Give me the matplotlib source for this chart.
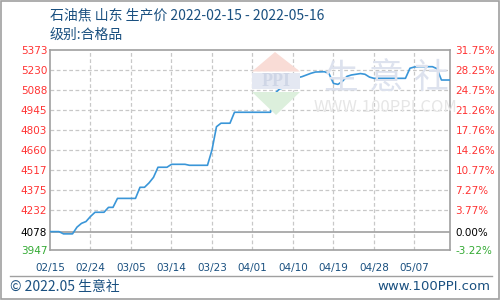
import pandas as pd
import matplotlib
matplotlib.use("Agg")
from matplotlib import pyplot as plt
from matplotlib.patches import Polygon, Rectangle
from matplotlib.lines import Line2D

plt.rcParams['font.family'] = ['Noto Sans CJK SC', 'DejaVu Sans']

# 数据
dates = ['2022-02-15', '2022-02-17', '2022-02-18', '2022-02-20', '2022-02-21',
         '2022-02-22', '2022-02-23', '2022-02-24', '2022-02-25', '2022-02-27',
         '2022-02-28', '2022-03-01', '2022-03-02', '2022-03-06', '2022-03-07',
         '2022-03-08', '2022-03-09', '2022-03-10', '2022-03-11', '2022-03-13',
         '2022-03-14', '2022-03-17', '2022-03-18', '2022-03-22', '2022-03-23',
         '2022-03-24', '2022-03-25', '2022-03-27', '2022-03-28', '2022-04-05',
         '2022-04-06', '2022-04-07', '2022-04-08', '2022-04-09', '2022-04-10',
         '2022-04-11', '2022-04-12', '2022-04-13', '2022-04-14', '2022-04-15',
         '2022-04-17', '2022-04-18', '2022-04-19', '2022-04-20', '2022-04-21',
         '2022-04-22', '2022-04-23', '2022-04-24', '2022-04-25', '2022-04-26',
         '2022-04-27', '2022-04-28', '2022-05-05', '2022-05-06', '2022-05-07',
         '2022-05-08', '2022-05-11', '2022-05-12', '2022-05-13', '2022-05-16']
prices = [4078, 4078, 4062, 4062, 4110,
          4137, 4150, 4186, 4216, 4216,
          4251, 4251, 4315, 4315, 4394,
          4394, 4425, 4465, 4537, 4537,
          4558, 4558, 4551, 4551, 4660,
          4826, 4851, 4851, 4929, 4929,
          5064, 5095, 5104, 5104, 5140,
          5175, 5183, 5195, 5207, 5216,
          5218, 5205, 5135, 5128, 5150,
          5185, 5195, 5200, 5205, 5200,
          5180, 5171, 5171, 5243, 5252,
          5254, 5254, 5240, 5159, 5159]

y_ticks = [3947, 4078, 4232, 4375, 4517, 4660, 4803, 4945, 5088, 5230, 5373]
pct_labels = ['-3.22%', '0.00%', '3.77%', '7.27%', '10.77%', '14.26%',
              '17.76%', '21.26%', '24.75%', '28.25%', '31.75%']
x_ticks = ['02/15', '02/24', '03/05', '03/14', '03/23', '04/01', '04/10',
           '04/19', '04/28', '05/07']
base = 4078

t0 = pd.Timestamp('2022-02-15')
days = [(pd.Timestamp(d) - t0).days for d in dates]

fig = plt.figure(figsize=(5, 3), dpi=100)
fig.patch.set_facecolor('white')
ax = fig.add_axes([0.1, 1/6, 0.8, 2/3])

def px(x, y):
    return (x / 500, 1 - y / 300)

# 水印
tf = fig.transFigure
fig.patches.append(Polygon([px(252, 71.5), px(275, 52), px(300, 71.5)], closed=True,
                           transform=tf, facecolor='#f9dcd6', edgecolor='none', zorder=0))
fig.patches.append(Rectangle(px(252, 89), 48 / 500, 16 / 300, transform=tf,
                             facecolor='#e4e8f2', edgecolor='none', zorder=0))
fig.patches.append(Polygon([px(252, 92), px(300, 92), px(276, 115)], closed=True,
                           transform=tf, facecolor='#dcefdc', edgecolor='none', zorder=0))
fig.text(*px(276, 81), 'PPI', fontsize=13, color='#cfd6e6', ha='center',
         va='center', family='Liberation Serif', fontweight='bold', zorder=0)
for cx, ch in zip([341, 386, 430], '生意社'):
    fig.text(*px(cx, 88), ch, fontsize=25, color='#dde2ee', ha='center',
             va='baseline', zorder=0)
fig.text(*px(385, 107), 'WWW.100PPI.COM', fontsize=12, color='#e6e6e6',
         ha='center', va='center', zorder=0)

ax.set_facecolor('none')
ax.plot(days, prices, color='#3a96d8', linewidth=1.2, zorder=3)

ax.set_xlim(0, 88.9)
ax.set_ylim(y_ticks[0], y_ticks[-1])

# 网格
for v in y_ticks[2:-1]:
    ax.axhline(v, color='#c8c8c8', linestyle=(0, (3, 2)), linewidth=0.9, zorder=1)
ax.axhline(base, color='#a0a0a0', linewidth=1.2, zorder=2)
for i in range(1, len(x_ticks)):
    ax.axvline(i * 9, color='#c8c8c8', linestyle=(0, (3, 2)), linewidth=0.9, zorder=1)

for s in ax.spines.values():
    s.set_color('#a0a0a0')
    s.set_linewidth(1.2)

ax.set_xticks([i * 9 for i in range(len(x_ticks))])
ax.set_xticklabels(x_ticks, fontsize=7.5, color='#1a5080', family='DejaVu Sans')
ax.tick_params(axis='x', length=0, pad=9)
ax.set_yticks(y_ticks)
ax.set_yticklabels([str(v) for v in y_ticks], fontsize=7.5, family='DejaVu Sans')
ax.tick_params(axis='y', length=0, pad=21)
for lbl in ax.get_yticklabels():
    lbl.set_horizontalalignment('left')
for lbl, v in zip(ax.get_yticklabels(), y_ticks):
    lbl.set_color('black' if v == base else ('#33aa33' if v < base else '#ff3333'))

ax2 = ax.twinx()
ax2.set_ylim(ax.get_ylim())
ax2.set_yticks(y_ticks)
ax2.set_yticklabels(pct_labels, fontsize=7.5, family='DejaVu Sans')
ax2.tick_params(axis='y', length=0, pad=4)
for lbl, v in zip(ax2.get_yticklabels(), y_ticks):
    lbl.set_color('black' if v == base else ('#33aa33' if v < base else '#ff3333'))
for s in ax2.spines.values():
    s.set_visible(False)

# 标题
fig.text(*px(50, 15), '石油焦 山东 生产价 2022-02-15 - 2022-05-16', fontsize=10,
         color='#1a5080', va='center', ha='left')
fig.text(*px(50, 35), '级别:合格品', fontsize=10, color='#1a5080',
         va='center', ha='left')

# 底部
fig.lines.append(Line2D([10 / 500, 492 / 500], [1 - 276 / 300] * 2, transform=tf,
                        color='#a0a0a0', linewidth=1))
fig.text(*px(10, 287), '© 2022.05 生意社', fontsize=10, color='#1a5080',
         va='center', ha='left')
fig.text(*px(490, 287), 'www.100PPI.com', fontsize=9.5, color='#1a5080',
         va='center', ha='right', family='DejaVu Sans')
fig.patches.append(Rectangle((0.001, 0.002), 0.997, 0.995, transform=tf,
                             fill=False, edgecolor='#a0a0a0', linewidth=1.2))

fig.savefig('out.png', dpi=100)
